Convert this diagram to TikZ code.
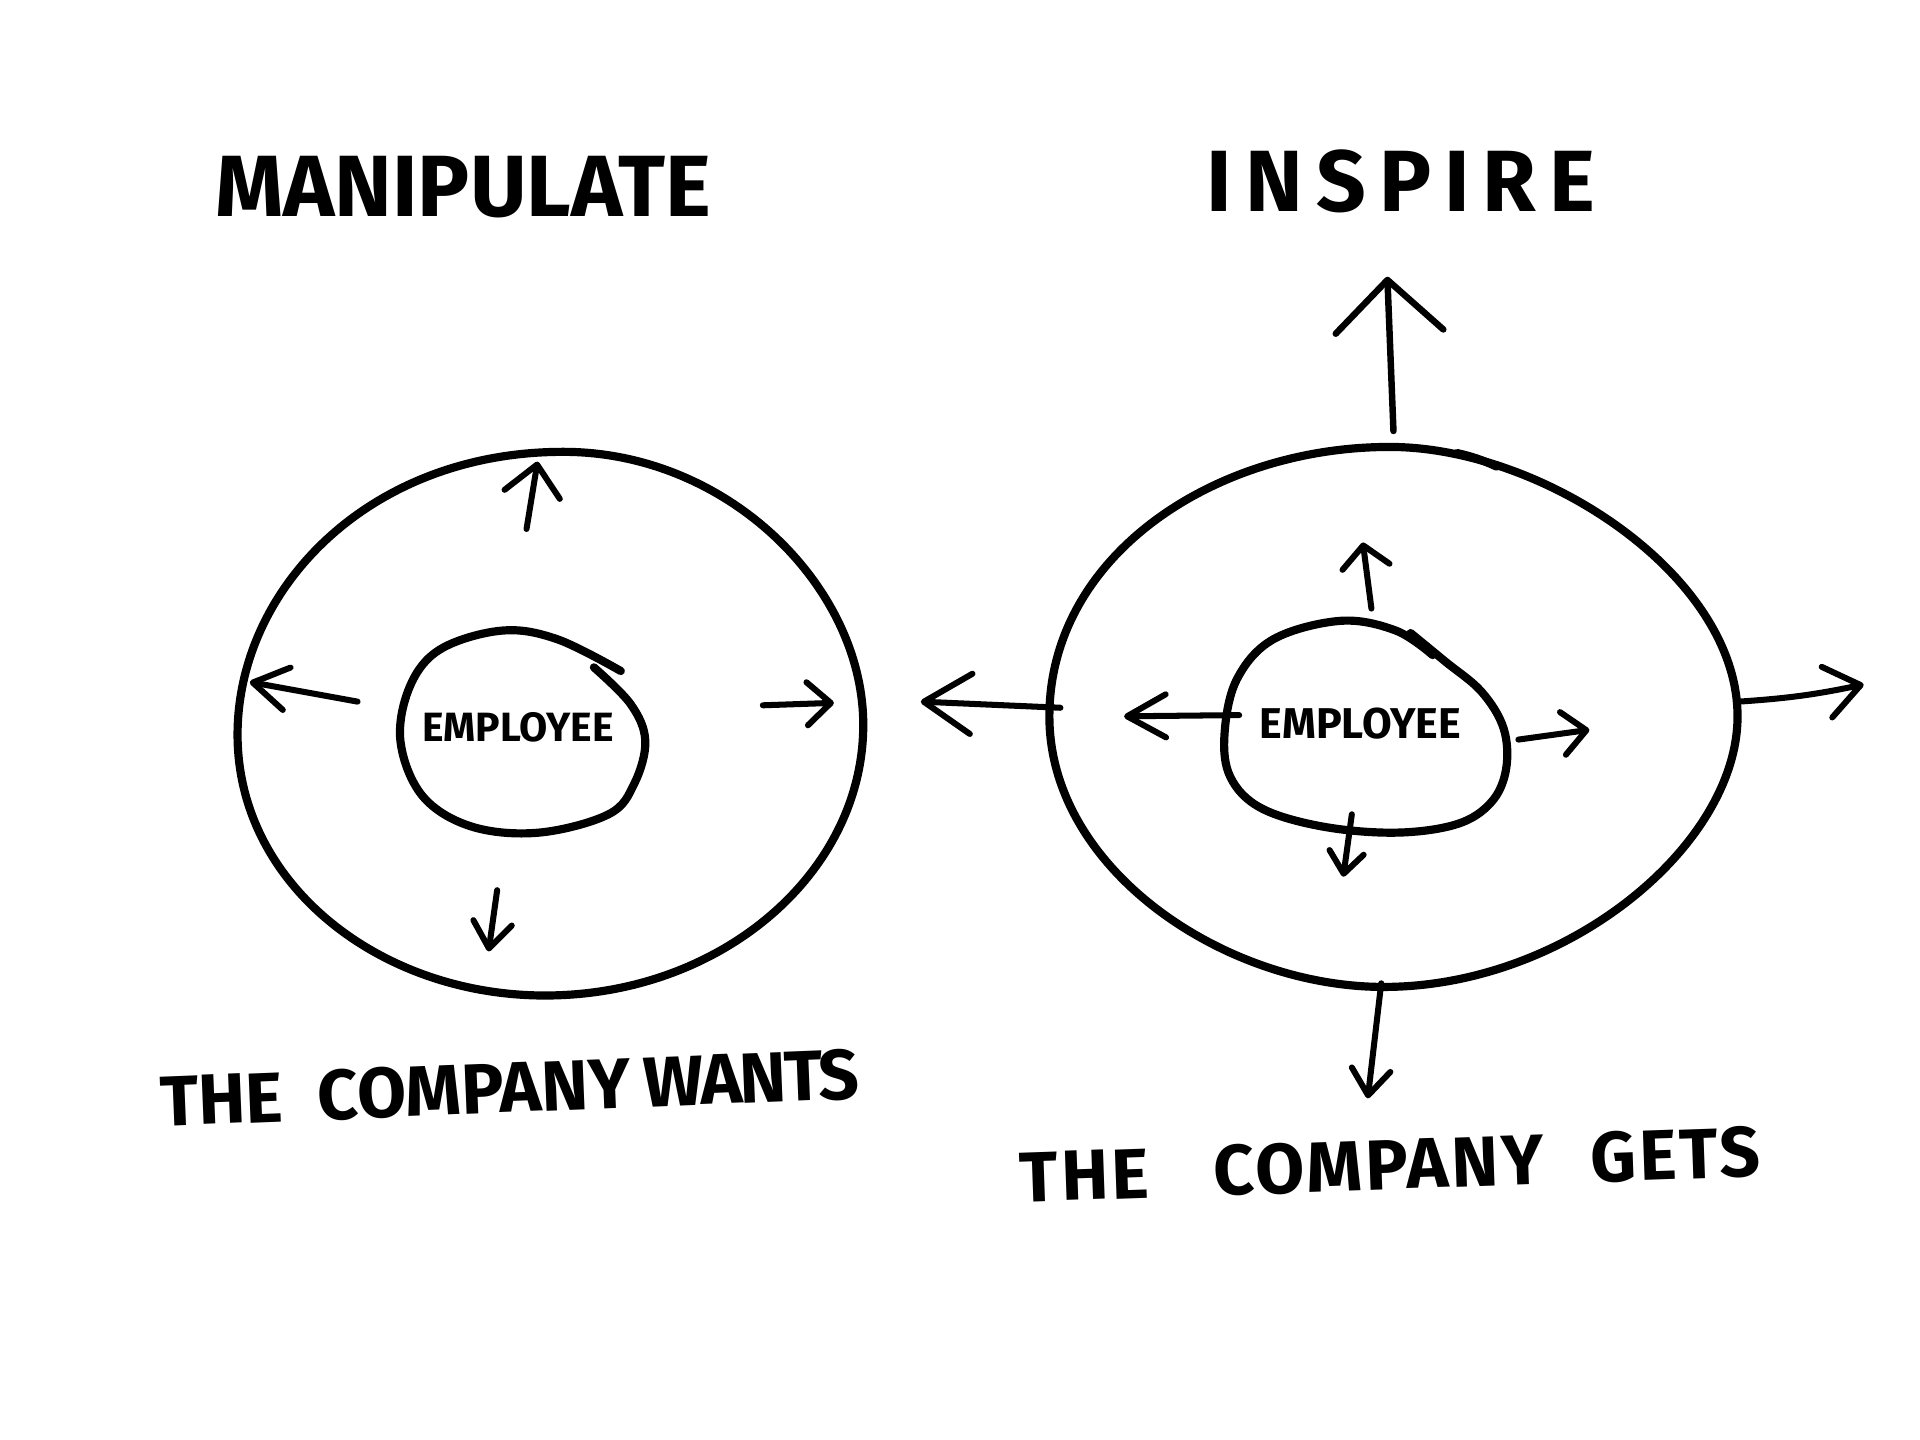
\documentclass[tikz,border=0pt]{standalone}
\usepackage{fontspec}
\setmainfont{Fira Sans}
\usetikzlibrary{arrows.meta}
\begin{document}
\begin{tikzpicture}[x=0.01cm,y=-0.01cm,
  ring/.style={line width=1.9pt, line join=round, line cap=round},
  arr/.style args={#1/#2}{line width=1.4pt, line cap=round, line join=round,
    -{Straight Barb[length=#1pt,width=#2pt,line cap=round,line join=round]}},
  title/.style={font=\bfseries\fontsize{20.2}{24}\selectfont, inner sep=0pt, anchor=base west},
  caption/.style={font=\bfseries\fontsize{16.5}{20}\selectfont, inner sep=0pt, anchor=base west},
  emp/.style={font=\bfseries\fontsize{9.5}{11}\selectfont, inner sep=0pt}
]
\useasboundingbox[fill=white] (0,0) rectangle (1568,1176);

% titles
\node[title] (manip) at (175,177) {MANIPULATE};
\node[title] (insp) at (985,173) {\addfontfeature{LetterSpace=15}INSPIRE};
\node[caption, rotate=2.3] (wants) at (131,920) {THE\hspace{8pt}COMPANY\hspace{3pt}{\addfontfeature{LetterSpace=-4}WANTS}};
\node[caption, rotate=2] (gets) at (833,982) {\addfontfeature{LetterSpace=4}THE\hspace{15pt}COMPANY\hspace{11pt}GETS};

% left rings
\coordinate (LT) at (460,369); \coordinate (LR) at (705,592);
\coordinate (LB) at (445,813); \coordinate (LL) at (194,600);
\draw[ring] (LT) .. controls (595,369) and (705,480) .. (LR)
  .. controls (705,712) and (590,813) .. (LB)
  .. controls (310,813) and (194,722) .. (LL)
  .. controls (194,482) and (300,369) .. cycle;
\draw[ring] plot[smooth, tension=0.6] coordinates {
 (485,545) (515,575) (527,605) (518,640) (497,665) (440,680) (385,675)
 (345,650) (327,605) (335,560) (360,530) (410,515) (455,522) (507,548)};
\node[emp] (empL) at (423,594) {EMPLOYEE};

% right rings
\coordinate (RT) at (1135,365); \coordinate (RR) at (1419,585);
\coordinate (RB) at (1130,806); \coordinate (RL) at (857,585);
\draw[ring] (RT) .. controls (1260,365) and (1419,470) .. (RR)
  .. controls (1419,690) and (1280,806) .. (RB)
  .. controls (1000,806) and (857,710) .. (RL)
  .. controls (857,455) and (990,365) .. cycle;
\draw[ring] (1190,370) to[bend left=6] (1222,381);
\draw[ring] plot[smooth, tension=0.6] coordinates {
 (1152,517) (1180,540) (1210,565) (1228,595) (1230,628) (1218,655)
 (1190,673) (1140,680) (1080,675) (1030,660) (1005,635) (1000,600)
 (1010,555) (1040,522) (1095,507) (1140,515) (1170,535)};
\node[emp, font=\bfseries\fontsize{10}{12}\selectfont] (empR) at (1111,591) {EMPLOYEE};

% left arrow coordinates
\coordinate (lua) at (430,432); \coordinate (lub) at (439,377);
\coordinate (lla) at (292,573); \coordinate (llb) at (204,557);
\coordinate (lra) at (623,576); \coordinate (lrb) at (681,574);
\coordinate (lda) at (406,727); \coordinate (ldb) at (399,777);
\draw[arr=7/13] (lua) -- (lub);
\draw[arr=8/10] (lla) -- (llb);
\draw[arr=5.5/10] (lra) -- (lrb);
\draw[arr=6/9] (lda) -- (ldb);

% right outer arrow coordinates
\coordinate (rua) at (1138,352); \coordinate (rub) at (1133,226);
\coordinate (rda) at (1128,803); \coordinate (rdb) at (1117,897);
\coordinate (rra) at (1420,573); \coordinate (rrb) at (1522,559);
\coordinate (rla) at (866,578); \coordinate (rlb) at (752,573);
\draw[arr=12/25, line width=1.5pt] (rua) -- (rub);
\draw[arr=6/9] (rda) -- (rdb);
\draw[arr=8/12] (rra) to[bend right=4] (rrb);
\draw[arr=11/14] (rla) -- (rlb);

% right inner arrow coordinates
\coordinate (iua) at (1120,497); \coordinate (iub) at (1113,443);
\coordinate (ila) at (1012,584); \coordinate (ilb) at (918,585);
\coordinate (ira) at (1240,604); \coordinate (irb) at (1298,596);
\coordinate (ida) at (1104,665); \coordinate (idb) at (1097,716);
\draw[arr=5/11] (iua) -- (iub);
\draw[arr=9/10] (ila) -- (ilb);
\draw[arr=5.5/10] (ira) -- (irb);
\draw[arr=5/8] (ida) -- (idb);
\end{tikzpicture}
\end{document}
